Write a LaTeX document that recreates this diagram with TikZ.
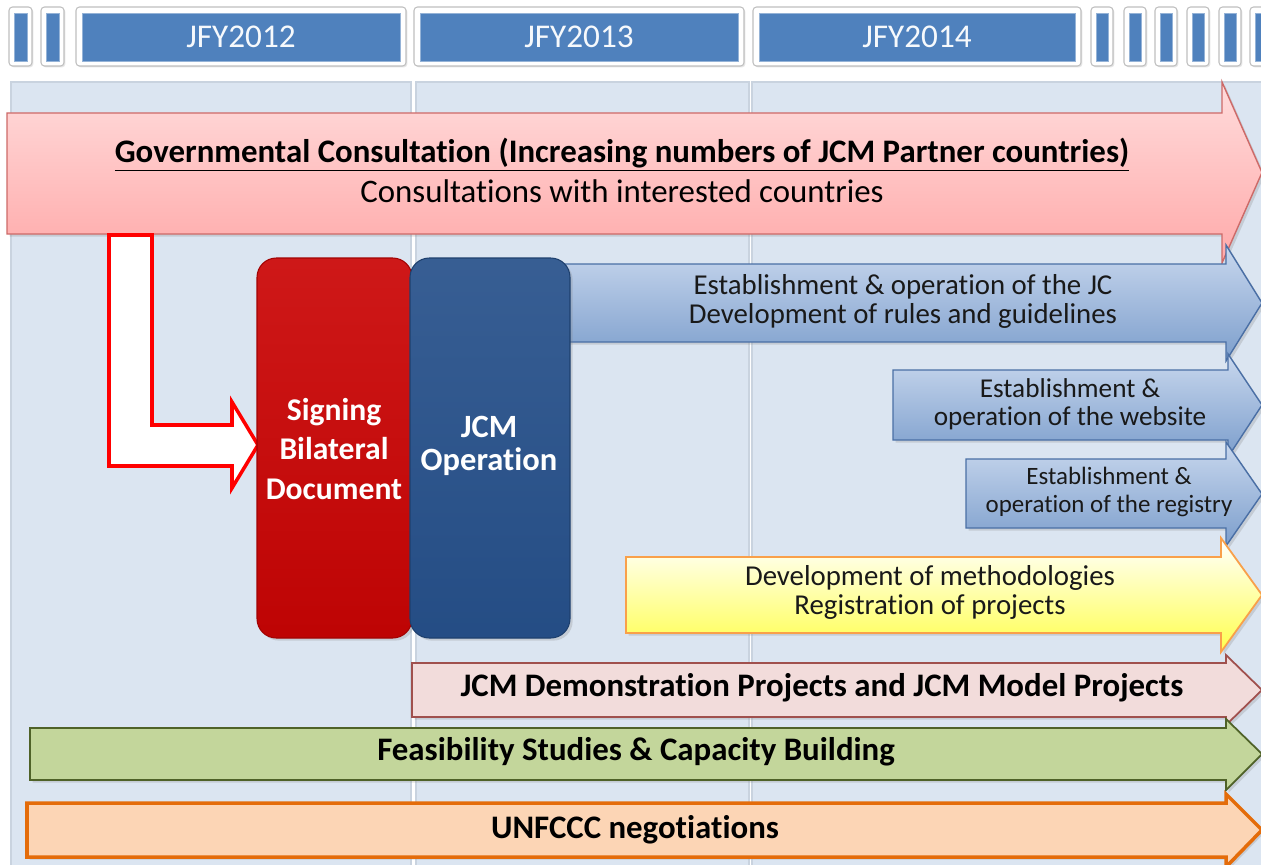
\documentclass[tikz,border=0pt]{standalone}
\usepackage{fontspec}
\setmainfont{Carlito}[Ligatures=NoCommon]
\usetikzlibrary{shadows}

\definecolor{panelblue}{HTML}{DBE5F1}
\definecolor{panelline}{HTML}{C9D3DF}
\definecolor{yearblue}{HTML}{4F81BD}
\definecolor{yearedge}{HTML}{BFBFBF}
\definecolor{govtop}{HTML}{FFDCDC}
\definecolor{govbot}{HTML}{FFA9A9}
\definecolor{govedge}{HTML}{CD6A68}
\definecolor{signred}{HTML}{CA0404}
\definecolor{jcmblue}{HTML}{26508A}
\definecolor{arrowtop}{HTML}{C9D8EE}
\definecolor{arrowbot}{HTML}{7C9ECC}
\definecolor{arrowedge}{HTML}{4A6FA5}
\definecolor{methedge}{HTML}{F9A04A}
\definecolor{methbot}{HTML}{FFFF4D}
\definecolor{demofill}{HTML}{F2DCDB}
\definecolor{demoedge}{HTML}{A0504D}
\definecolor{fsfill}{HTML}{C3D69B}
\definecolor{fsedge}{HTML}{4F6228}
\definecolor{unfill}{HTML}{FCD5B5}
\definecolor{unedge}{HTML}{E46C0A}

\tikzset{
  panel/.style={fill=panelblue, draw=panelline, line width=0.6pt},
  yearframe/.style={fill=white, draw=yearedge, line width=0.6pt, rounded corners=2pt,
    drop shadow={opacity=0.2, shadow xshift=0.8pt, shadow yshift=-0.8pt}},
  yearfill/.style={fill=yearblue, draw=yearblue!60!white, line width=0.5pt},
  yeartext/.style={text=white!95!yearblue, font=\fontsize{18.9pt}{20pt}\selectfont},
  softshadow/.style={drop shadow={opacity=0.25, shadow xshift=1.5pt, shadow yshift=-1.5pt}},
  bluearrow/.style={softshadow, top color=arrowtop, bottom color=arrowbot, draw=arrowedge, line width=0.8pt},
  smalltext/.style={align=center, text=black!90, font=\fontsize{16.4pt}{16.5pt}\selectfont},
  bartext/.style={align=center, text=black, font=\bfseries\fontsize{18.7pt}{20pt}\selectfont},
  boxtext/.style={align=center, text=white, font=\bfseries\fontsize{18pt}{22.7pt}\selectfont}
}

\begin{document}
\begin{tikzpicture}[x=0.02cm, y=-0.02cm]
\useasboundingbox (0,0) rectangle (1261,865);
\fill [white] (0,0) rectangle (1261,865);

% year columns
\draw [panel] (11,82) rectangle (411,870);
\draw [panel] (416,82) rectangle (749,870);
\draw [panel] (752,82) rectangle (1275,870);

% header
\foreach \a/\b in {9/32, 41/64, 1091/1113, 1124/1146, 1155/1177, 1187/1209, 1219/1241, 1250/1272} {
  \draw [yearframe] (\a,7) rectangle (\b,66);
  \draw [yearfill] (\a+5,13) rectangle (\b-5,61);
}
\foreach \a/\b/\yr in {76/406/2012, 414/744/2013, 753/1081/2014} {
  \draw [yearframe] (\a,7) rectangle (\b,66);
  \draw [yearfill] (\a+6,13) rectangle (\b-6,61);
  \node [yeartext] (jfy\yr) at ({(\a+\b)/2},37) {JFY\yr};
}

% governmental consultation
\draw [softshadow, top color=govtop, bottom color=govbot, draw=govedge, line width=0.8pt]
  (7,113) -- (1222,113) -- (1222,82) -- (1262,172.5) -- (1222,263) -- (1222,234) -- (7,234) -- cycle;
\node [align=center, font=\fontsize{18.7pt}{22.7pt}\selectfont] (gov) at (622,170)
  {\underline{\textbf{Governmental Consultation (Increasing numbers of JCM Partner countries)}}\\
   Consultations with interested countries};

% white arrow to the signing
\draw [fill=white, draw=red, line width=2pt]
  (109,235) -- (152,235) -- (152,425) -- (232,425) -- (232,402) -- (258,445)
  -- (232,488) -- (232,466) -- (109,466) -- cycle;

% JC arrow
\draw [bluearrow]
  (560,264) -- (1226,264) -- (1226,245) -- (1262,303) -- (1226,361) -- (1226,342) -- (560,342) -- cycle;
\node [smalltext] (jc) at (903,301)
  {Establishment \& operation of the JC\\Development of rules and guidelines};

% signing and operation blocks
\draw [softshadow, top color=signred!92!white, bottom color=signred!94!black, draw=signred!80!black,
  line width=0.6pt, rounded corners=11pt] (257,258) rectangle (412,638);
\node [boxtext] (sign) at (334,449) {Signing\\Bilateral\\Document};
\draw [softshadow, top color=jcmblue!92!white, bottom color=jcmblue!96!black, draw=jcmblue!80!black,
  line width=0.6pt, rounded corners=11pt] (410,258) rectangle (570,638);
\node [boxtext, font=\bfseries\fontsize{18.5pt}{19pt}\selectfont] (jcm) at (489,446) {JCM\\Operation};

% website arrow
\draw [bluearrow]
  (893,370) -- (1228,370) -- (1228,354) -- (1262,405) -- (1228,457) -- (1228,440) -- (893,440) -- cycle;
\node [smalltext, font=\fontsize{15.5pt}{15.9pt}\selectfont] (web) at (1070,404)
  {Establishment \&\\operation of the website};

% registry arrow
\draw [bluearrow]
  (966,459) -- (1226,459) -- (1226,442) -- (1262,494) -- (1226,546) -- (1226,528) -- (966,528) -- cycle;
\node [smalltext, font=\fontsize{14.2pt}{16.4pt}\selectfont] (reg) at (1109,492)
  {Establishment \&\\operation of the registry};

% methodologies arrow
\draw [softshadow, top color=white, bottom color=methbot, draw=methedge, line width=1pt]
  (626,557) -- (1221,557) -- (1221,538) -- (1262,595) -- (1221,652) -- (1221,633) -- (626,633) -- cycle;
\node [smalltext] (meth) at (930,592)
  {Development of methodologies\\Registration of projects};

% demonstration projects
\draw [softshadow, fill=demofill, draw=demoedge, line width=1pt]
  (412,663) -- (1226,663) -- (1226,655) -- (1262,690) -- (1226,725) -- (1226,717) -- (412,717) -- cycle;
\node [bartext] (demo) at (822,688) {JCM Demonstration Projects and JCM Model Projects};

% feasibility studies
\draw [softshadow, fill=fsfill, draw=fsedge, line width=1pt]
  (30,728) -- (1226,728) -- (1226,719) -- (1262,754) -- (1226,790) -- (1226,780) -- (30,780) -- cycle;
\node [bartext] (fs) at (636,752) {Feasibility Studies \& Capacity Building};

% negotiations
\draw [softshadow, fill=unfill, draw=unedge, line width=2pt]
  (27,803) -- (1226,803) -- (1226,794) -- (1262,830) -- (1226,867) -- (1226,857) -- (27,857) -- cycle;
\node [bartext] (unfccc) at (635,830) {UNFCCC negotiations};
\end{tikzpicture}
\end{document}
